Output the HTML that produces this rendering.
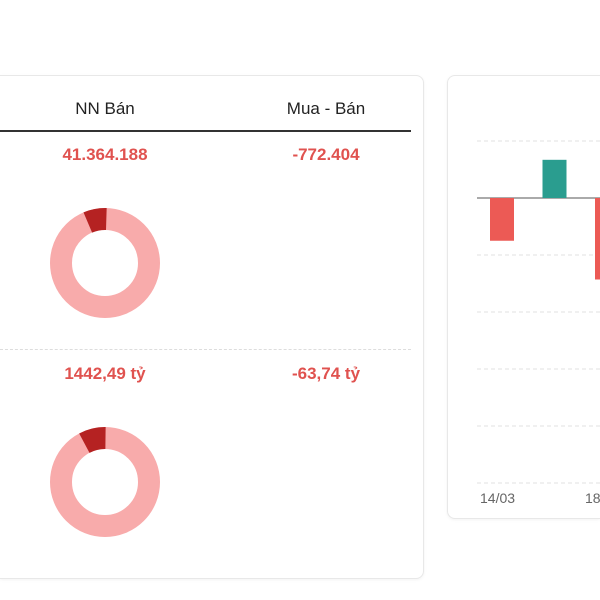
<!DOCTYPE html>
<html><head><meta charset="utf-8"><style>
body{margin:0;width:600px;height:600px;background:#fff;position:relative;overflow:hidden;font-family:"Liberation Sans",sans-serif}
.card{position:absolute;background:#fff;border:1px solid #e8e8e8;border-radius:8px;box-shadow:0 1px 3px rgba(0,0,0,.05);box-sizing:border-box}
.t{position:absolute;transform:translateX(-50%);white-space:nowrap}
.h{font-size:17px;color:#222;top:99px}
.v{font-size:17px;color:#e0524f;font-weight:bold}
</style></head><body>
<div class="card" style="left:0;top:75px;width:424px;height:504px;border-left:none;border-radius:0 8px 8px 0"></div>
<div class="t h" style="left:105px">NN Bán</div>
<div class="t h" style="left:326px">Mua - Bán</div>
<div style="position:absolute;left:0;top:130px;width:411px;height:2px;background:#333"></div>
<div class="t v" style="left:105px;top:145px">41.364.188</div>
<div class="t v" style="left:326px;top:145px">-772.404</div>
<div style="position:absolute;left:0;top:349px;width:411px;border-top:1px dashed #ddd"></div>
<div class="t v" style="left:105px;top:364px">1442,49 tỷ</div>
<div class="t v" style="left:326px;top:364px">-63,74 tỷ</div>
<svg width="600" height="600" style="position:absolute;left:0;top:0">
<g>
<circle cx="105" cy="263" r="44" fill="none" stroke="#f8abab" stroke-width="22"/>
<circle cx="105" cy="263" r="44" fill="none" stroke="#b52222" stroke-width="22" stroke-dasharray="19 300" transform="rotate(-113 105 263)"/>
</g>
<g>
<circle cx="105" cy="482" r="44" fill="none" stroke="#f8abab" stroke-width="22"/>
<circle cx="105" cy="482" r="44" fill="none" stroke="#b52222" stroke-width="22" stroke-dasharray="22 300" transform="rotate(-118 105 482)"/>
</g>
</svg>
<div class="card" style="left:447px;top:75px;width:153px;height:444px;border-right:none;border-radius:8px 0 0 8px"></div>
<svg width="600" height="600" style="position:absolute;left:0;top:0" id="c"></svg>
<script>
const categories=["14/03","15/03","18/03"];
const values=[-0.75,0.67,-1.43];
const ticks=[1,0,-1,-2,-3,-4,-5];
const xLabels=["14/03","18/03"];
const ns="http://www.w3.org/2000/svg",c=document.getElementById('c');
const y=v=>198-v*57, x=i=>502+i*52.5;
function mk(t,a){const e=document.createElementNS(ns,t);for(const k in a)e.setAttribute(k,a[k]);c.appendChild(e);return e;}
ticks.forEach(t=>{const l=mk('line',{x1:477,x2:600,y1:y(t),y2:y(t),stroke:t===0?'#555':'#e2e2e2','stroke-dasharray':t===0?'':'4 3'});

});
values.forEach((v,i)=>{const r=mk('rect',{x:x(i)-12,width:24,y:Math.min(y(v),y(0)),height:Math.abs(y(v)-y(0)),fill:v>=0?'#2a9d8f':'#ec5a55'});

});
xLabels.forEach((s,i)=>{const t=mk('text',{x:x(i*2)-22,y:503,'font-size':14,fill:'#666','font-family':'Liberation Sans'});t.textContent=s;

});
</script>
</body></html>
